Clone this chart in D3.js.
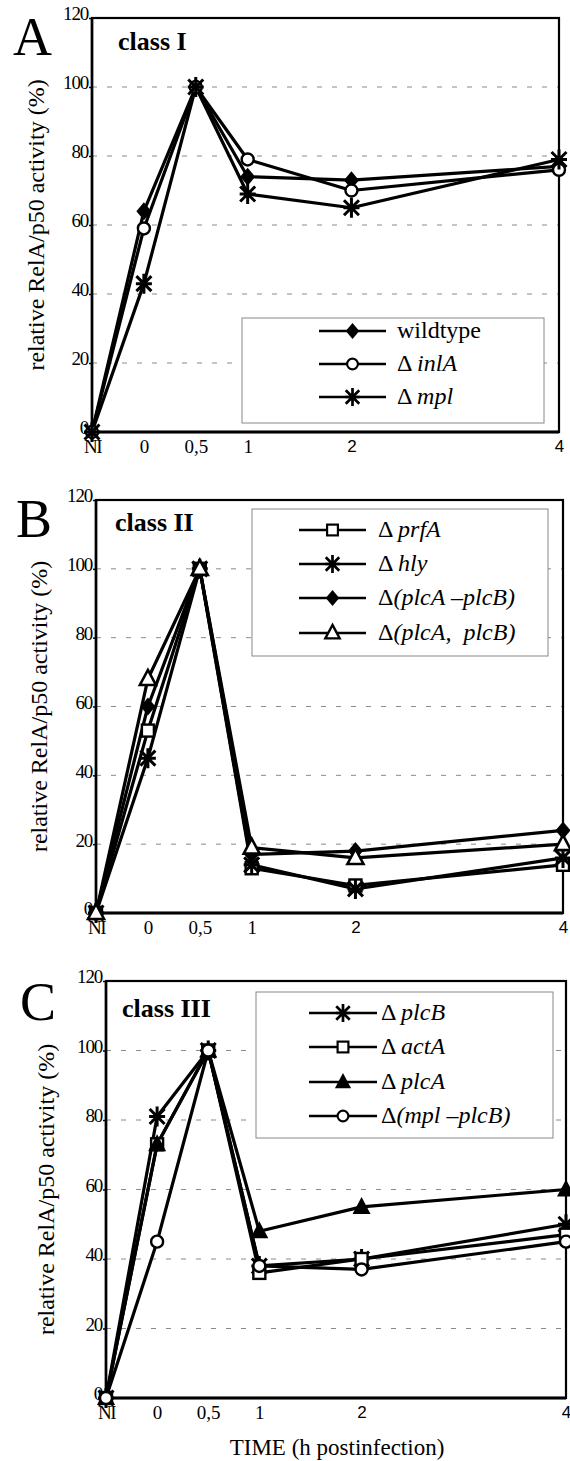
<!DOCTYPE html>
<html>
<head>
<meta charset="utf-8">
<script src="https://cdn.jsdelivr.net/npm/d3@7"></script>
<style>
  body { margin: 0; background: #fff; }
  svg { display: block; }
</style>
</head>
<body>
<svg id="chart" width="570" height="1461"></svg>
<script>
// x positions (h postinfection); NI is drawn half an hour before 0
var timeValues = [-0.5, 0, 0.5, 1, 2, 4];
var timeLabels = ['NI', '0', '0,5', '1', '2', '4'];
var yTicks = [0, 20, 40, 60, 80, 100, 120];

// class I
var wildtype = [0, 64, 100, 74, 73, 77];
var inlA     = [0, 59, 100, 79, 70, 76];
var mpl      = [0, 43, 100, 69, 65, 79];

// class II
var prfA      = [0, 53, 100, 13, 8, 14];
var hly       = [0, 45, 100, 14, 7, 16];
var plcAplcB  = [0, 60, 100, 17, 18, 24];
var plcAcplcB = [0, 68, 100, 19, 16, 20];

// class III
var plcB    = [0, 81, 100, 38, 40, 50];
var actA    = [0, 73, 100, 36, 40, 47];
var plcA    = [0, 73, 100, 48, 55, 60];
var mplPlcB = [0, 45, 100, 38, 37, 45];

var SERIF = '"Liberation Serif", "Times New Roman", Times, serif';
var SANS = '"Liberation Sans", Arial, sans-serif';

var svg = d3.select('#chart');

var panels = [
  {
    letter: 'A', title: 'class I',
    x0: 92, x1: 559, yTop: 18, yBot: 432,
    letterX: 13, letterY: 55, titleX: 118, titleY: 50, ylabelX: 44,
    legend: {x: 242, y: 318, w: 302, h: 105, lx0: 319, lx1: 386, tx: 397, rows: [331, 364, 397]},
    series: [
      {name: [['', 'wildtype']], values: wildtype, marker: 'diamond'},
      {name: [['', 'Δ '], ['i', 'inlA']], values: inlA, marker: 'circle'},
      {name: [['', 'Δ '], ['i', 'mpl']], values: mpl, marker: 'star'}
    ]
  },
  {
    letter: 'B', title: 'class II',
    x0: 96, x1: 563, yTop: 500, yBot: 913,
    letterX: 16, letterY: 537, titleX: 115, titleY: 531, ylabelX: 47,
    legend: {x: 252, y: 509, w: 296, h: 147, lx0: 299, lx1: 366, tx: 378, rows: [530, 564, 598, 633]},
    series: [
      {name: [['', 'Δ '], ['i', 'prfA']], values: prfA, marker: 'square'},
      {name: [['', 'Δ '], ['i', 'hly']], values: hly, marker: 'star'},
      {name: [['', 'Δ'], ['i', '(plcA –plcB)']], values: plcAplcB, marker: 'diamond'},
      {name: [['', 'Δ'], ['i', '(plcA,  plcB)']], values: plcAcplcB, marker: 'triangle'}
    ]
  },
  {
    letter: 'C', title: 'class III',
    x0: 106, x1: 566, yTop: 981, yBot: 1398,
    letterX: 20, letterY: 1020, titleX: 122, titleY: 1017, ylabelX: 54,
    legend: {x: 256, y: 992, w: 297, h: 146, lx0: 309, lx1: 377, tx: 381, rows: [1013, 1047, 1082, 1116]},
    series: [
      {name: [['', 'Δ '], ['i', 'plcB']], values: plcB, marker: 'star'},
      {name: [['', 'Δ '], ['i', 'actA']], values: actA, marker: 'square'},
      {name: [['', 'Δ '], ['i', 'plcA']], values: plcA, marker: 'filledTriangle'},
      {name: [['', 'Δ'], ['i', '(mpl –plcB)']], values: mplPlcB, marker: 'circle'}
    ]
  }
];

function drawMarker(g, type, cx, cy, scale) {
  var s = scale || 1;
  var m = g.append('g').attr('transform', 'translate(' + cx + ',' + cy + ') scale(' + s + ')');
  if (type === 'diamond') {
    m.append('path').attr('d', 'M0,-9L7.5,0L0,9L-7.5,0Z').attr('fill', '#000');
  } else if (type === 'circle') {
    m.append('circle').attr('r', 6).attr('fill', '#fff').attr('stroke', '#000').attr('stroke-width', 2.4);
  } else if (type === 'square') {
    m.append('rect').attr('x', -6).attr('y', -6).attr('width', 12).attr('height', 12)
      .attr('fill', '#fff').attr('stroke', '#000').attr('stroke-width', 2.4);
  } else if (type === 'triangle') {
    m.append('path').attr('d', 'M0,-9L8,6L-8,6Z').attr('fill', '#fff')
      .attr('stroke', '#000').attr('stroke-width', 2.6);
  } else if (type === 'filledTriangle') {
    m.append('path').attr('d', 'M0,-10L9,7L-9,7Z').attr('fill', '#000');
  } else if (type === 'star') {
    m.append('path').attr('d', 'M-7.5,-7.5L7.5,7.5M-7.5,7.5L7.5,-7.5M0,-10L0,10M-8,0L8,0')
      .attr('stroke', '#000').attr('stroke-width', 3).attr('fill', 'none');
  }
}

panels.forEach(function (p) {
  var x = d3.scaleLinear().domain([-0.5, 4]).range([p.x0, p.x1]);
  var y = d3.scaleLinear().domain([0, 120]).range([p.yBot, p.yTop]);
  var g = svg.append('g');

  // dashed grid
  g.selectAll('.grid').data(yTicks.filter(function (d) { return d > 0 && d < 120; }))
    .enter().append('line')
    .attr('x1', p.x0).attr('x2', p.x1)
    .attr('y1', function (d) { return y(d); }).attr('y2', function (d) { return y(d); })
    .attr('stroke', '#8a8a8a').attr('stroke-width', 1).attr('stroke-dasharray', '5,10');

  // legend box
  var lg = p.legend;
  g.append('rect').attr('x', lg.x).attr('y', lg.y).attr('width', lg.w).attr('height', lg.h)
    .attr('fill', '#fff').attr('stroke', '#888').attr('stroke-width', 1);

  // frame
  g.append('rect').attr('x', p.x0).attr('y', p.yTop)
    .attr('width', p.x1 - p.x0).attr('height', p.yBot - p.yTop)
    .attr('fill', 'none').attr('stroke', '#000').attr('stroke-width', 2.2);

  // y axis ticks and labels
  var yAxis = d3.axisLeft(y).tickValues(yTicks).tickSize(3).tickPadding(1);
  var ya = g.append('g').attr('transform', 'translate(' + p.x0 + ',0)').call(yAxis);
  ya.select('.domain').remove();
  ya.selectAll('line').attr('stroke', '#000').attr('stroke-width', 1.5);
  ya.selectAll('text')
    .style('font-family', SERIF)
    .style('font-size', '19px').style('letter-spacing', '-1.2px')
    .attr('dy', '0.1em');

  // x axis labels
  var xAxis = d3.axisBottom(x).tickValues(timeValues).tickSize(0).tickPadding(8)
    .tickFormat(function (d, i) { return timeLabels[i]; });
  var xa = g.append('g').attr('transform', 'translate(0,' + p.yBot + ')').call(xAxis);
  xa.select('.domain').remove();
  xa.selectAll('text')
    .style('font-family', function (d) { return d >= 2 ? SANS : SERIF; })
    .style('font-size', function (d) { return d >= 2 ? '17px' : '19px'; })
    .style('letter-spacing', function (d) { return d < 0 ? '-1.5px' : '0px'; });

  // heavier left and bottom axis lines
  g.append('line').attr('x1', p.x0).attr('x2', p.x1).attr('y1', p.yBot).attr('y2', p.yBot)
    .attr('stroke', '#000').attr('stroke-width', 3);
  g.append('line').attr('x1', p.x0).attr('x2', p.x0).attr('y1', p.yTop).attr('y2', p.yBot)
    .attr('stroke', '#000').attr('stroke-width', 2.6);

  // series lines
  var line = d3.line()
    .x(function (d, i) { return x(timeValues[i]); })
    .y(function (d) { return y(d); });
  p.series.forEach(function (s) {
    g.append('path').datum(s.values).attr('d', line)
      .attr('fill', 'none').attr('stroke', '#000').attr('stroke-width', 3.2)
      .attr('stroke-linejoin', 'round');
  });
  p.series.forEach(function (s) {
    s.values.forEach(function (v, i) {
      drawMarker(g, s.marker, x(timeValues[i]), y(v));
    });
  });

  // legend entries
  p.series.forEach(function (s, i) {
    var ry = lg.rows[i];
    g.append('line').attr('x1', lg.lx0).attr('x2', lg.lx1).attr('y1', ry).attr('y2', ry)
      .attr('stroke', '#000').attr('stroke-width', 2.4);
    drawMarker(g, s.marker, (lg.lx0 + lg.lx1) / 2, ry, 0.9);
    var t = g.append('text').attr('x', lg.tx).attr('y', ry + 7)
      .attr('xml:space', 'preserve')
      .style('font-family', SERIF).style('font-size', '24px');
    s.name.forEach(function (part) {
      t.append('tspan').style('font-style', part[0] === 'i' ? 'italic' : 'normal').text(part[1]);
    });
  });

  // panel letter and class title
  g.append('text').attr('x', p.letterX).attr('y', p.letterY)
    .style('font-family', SERIF).style('font-size', '54px').text(p.letter);
  g.append('text').attr('x', p.titleX).attr('y', p.titleY)
    .style('font-family', SERIF).style('font-size', '26px').style('font-weight', 'bold')
    .text(p.title);

  // y axis title
  g.append('text')
    .attr('transform', 'translate(' + p.ylabelX + ',' + ((p.yTop + p.yBot) / 2) + ') rotate(-90)')
    .attr('text-anchor', 'middle')
    .style('font-family', SERIF).style('font-size', '24px')
    .text('relative RelA/p50 activity (%)');
});

// shared x axis title
svg.append('text').attr('x', 337).attr('y', 1455).attr('text-anchor', 'middle')
  .style('font-family', SERIF).style('font-size', '23px').text('TIME (h postinfection)');
</script>
</body>
</html>
